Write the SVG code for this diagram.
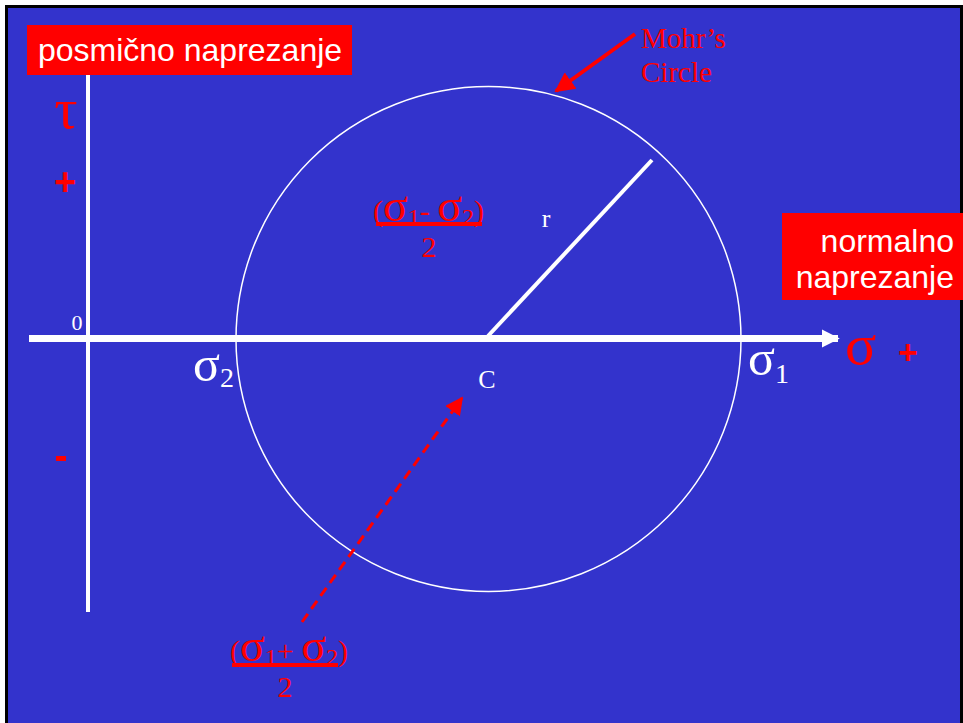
<svg xmlns="http://www.w3.org/2000/svg" width="963" height="723" viewBox="0 0 963 723">
<style>
.sans{font-family:"Liberation Sans",Arial,sans-serif;fill:#fff}
.serif{font-family:"Liberation Serif","Times New Roman",serif}
.w{fill:#fff}
.r{fill:#f00}
.plus{font-family:"Liberation Sans",Arial,sans-serif;font-weight:bold;fill:#f00}
</style>
<defs>
<marker id="ahw" viewBox="0 0 10 10" refX="9" refY="5" markerWidth="2.6" markerHeight="2.8" orient="auto" markerUnits="strokeWidth">
<path d="M0,0 L10,5 L0,10 z" fill="#fff"/>
</marker>
<marker id="ahr" viewBox="0 0 10 10" refX="9" refY="5" markerWidth="5" markerHeight="5" orient="auto" markerUnits="strokeWidth">
<path d="M0,0 L10,5 L0,10 z" fill="#f00"/>
</marker>
<marker id="ahr2" viewBox="0 0 10 10" refX="9" refY="5" markerWidth="6" markerHeight="6" orient="auto" markerUnits="strokeWidth">
<path d="M0,0 L10,5 L0,10 z" fill="#f00"/>
</marker>
</defs>
<rect x="0" y="0" width="963" height="723" fill="#fff"/>
<rect x="6.5" y="6.5" width="955" height="720" fill="#3333cc" stroke="#000" stroke-width="3"/>

<g id="circle">
<circle cx="488.5" cy="339" r="252.5" fill="none" stroke="#fff" stroke-width="1.5"/>
</g>

<g id="connectors">
<line x1="88" y1="75" x2="88" y2="612" stroke="#fff" stroke-width="4"/>
<line x1="29" y1="338.5" x2="838" y2="338.5" stroke="#fff" stroke-width="7" marker-end="url(#ahw)"/>
<line x1="488" y1="336" x2="652" y2="160" stroke="#fff" stroke-width="4"/>
<line x1="635" y1="34" x2="556" y2="91" stroke="#f00" stroke-width="4" marker-end="url(#ahr)"/>
<line x1="302" y1="622" x2="462" y2="398" stroke="#f00" stroke-width="3" stroke-dasharray="10,6" marker-end="url(#ahr2)"/>
</g>

<g id="label-shear">
<rect x="27" y="25" width="325" height="50" fill="#f00"/>
<text x="190" y="61" class="sans" font-size="32" text-anchor="middle">posmično naprezanje</text>
</g>

<g id="label-normal">
<rect x="782" y="213" width="181" height="87" fill="#f00"/>
<text x="954" y="252" class="sans" font-size="32" text-anchor="end">normalno</text>
<text x="954" y="288" class="sans" font-size="32" text-anchor="end">naprezanje</text>
</g>

<g id="axis-labels">
<text x="66" y="128" class="serif r" font-size="58" text-anchor="middle">τ</text>
<text x="65" y="195" class="plus" font-size="38" text-anchor="middle">+</text>
<rect x="56" y="456" width="10" height="5" fill="#f00"/>
<text x="77" y="330" class="serif w" font-size="22" text-anchor="middle">0</text>
<text x="845" y="364" class="serif r" font-size="58">σ</text>
<text x="908" y="364" class="plus" font-size="34" text-anchor="middle">+</text>
</g>

<g id="sigma2">
<text x="193" y="381" class="serif w"><tspan font-size="50">σ</tspan><tspan font-size="28" dy="6">2</tspan></text>
</g>
<g id="sigma1">
<text x="748" y="375" class="serif w"><tspan font-size="50">σ</tspan><tspan font-size="28" dy="8">1</tspan></text>
</g>
<g id="center-C">
<text x="487" y="388" class="serif w" font-size="26" text-anchor="middle">C</text>
</g>
<g id="radius-r">
<text x="546" y="227" class="serif w" font-size="26" text-anchor="middle">r</text>
</g>

<g id="formula-r">
<text x="373" y="221" class="serif r" font-size="30">(<tspan font-size="46">σ</tspan><tspan font-size="24" dy="4">1</tspan><tspan dy="-4">-  </tspan><tspan font-size="46">σ</tspan><tspan font-size="24" dy="4">2</tspan><tspan dy="-4">)</tspan></text>
<rect x="376" y="222" width="106" height="4" fill="#f00"/>
<text x="429" y="257" class="serif r" font-size="30" text-anchor="middle">2</text>
</g>

<g id="formula-c">
<text x="230" y="661" class="serif r" font-size="30">(<tspan font-size="46">σ</tspan><tspan font-size="24" dy="4">1</tspan><tspan dy="-4">+ </tspan><tspan font-size="46">σ</tspan><tspan font-size="24" dy="4">2</tspan><tspan dy="-4">)</tspan></text>
<rect x="232" y="663" width="106" height="4" fill="#f00"/>
<text x="285" y="697" class="serif r" font-size="30" text-anchor="middle">2</text>
</g>

<g id="mohr-label">
<text x="641" y="48" class="serif r" font-size="29">Mohr’s</text>
<text x="641" y="82" class="serif r" font-size="29">Circle</text>
</g>
</svg>
